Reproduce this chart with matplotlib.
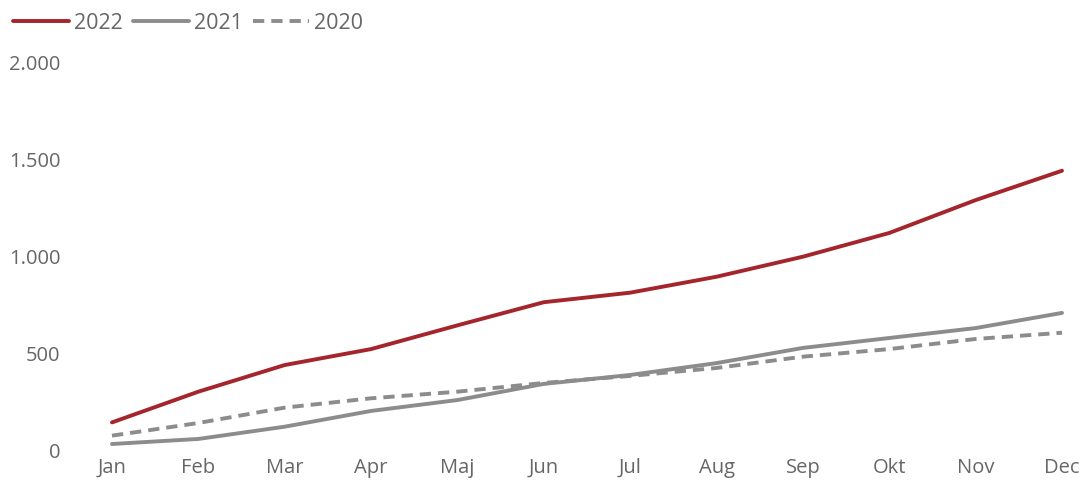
import matplotlib.pyplot as plt
from matplotlib.ticker import FuncFormatter

months = ["Jan", "Feb", "Mar", "Apr", "Maj", "Jun", "Jul", "Aug", "Sep", "Okt", "Nov", "Dec"]
y2022 = [147, 305, 442, 524, 646, 765, 814, 896, 999, 1121, 1290, 1441]
y2021 = [36, 62, 125, 206, 262, 345, 391, 452, 530, 581, 632, 710]
y2020 = [79, 144, 223, 271, 305, 350, 386, 427, 485, 524, 576, 608]

red = "#A4262C"
gray = "#8C8C8C"
txt = "#666666"

plt.rcParams["font.family"] = ["Open Sans", "DejaVu Sans"]

fig = plt.figure(figsize=(10.87, 4.88), dpi=100)
ax = fig.add_axes([112 / 1087, 37 / 488, 950 / 1087, 389 / 488])

x = list(range(len(months)))
ax.plot(x, y2022, color=red, lw=2.8, label="2022", solid_capstyle="round", clip_on=False)
ax.plot(x, y2021, color=gray, lw=2.8, label="2021", solid_capstyle="round", clip_on=False)
ax.plot(x, y2020, color=gray, lw=2.8, ls=(0, (2.9, 1.8)), label="2020", clip_on=False)

ax.set_xlim(0, 11)
ax.set_ylim(0, 2000)
ax.set_yticks([0, 500, 1000, 1500, 2000])
ax.yaxis.set_major_formatter(FuncFormatter(lambda v, p: f"{int(v):,}".replace(",", ".")))
ax.set_xticks(x)
ax.set_xticklabels(months)
ax.tick_params(axis="both", length=0, labelsize=14.5, colors=txt)
ax.tick_params(axis="y", pad=37)
ax.tick_params(axis="x", pad=5)
for s in ax.spines.values():
    s.set_visible(False)

fig.legend(loc="upper left", bbox_to_anchor=(0.0, 1.0), ncol=3, frameon=False,
           fontsize=15.5, labelcolor=txt, handlelength=2.6, handletextpad=0.25,
           columnspacing=0.45, borderaxespad=0.2)

fig.savefig("out.png", dpi=100)
